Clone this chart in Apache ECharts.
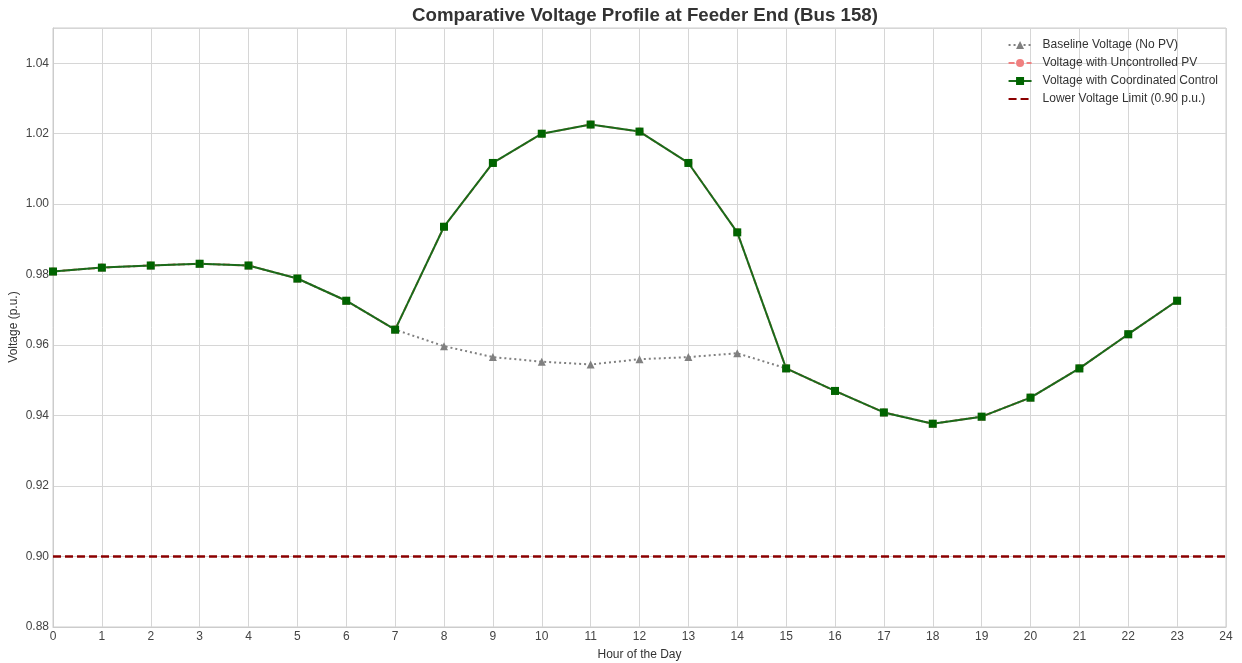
<!DOCTYPE html>
<html>
<head>
<meta charset="utf-8">
<script src="https://cdn.jsdelivr.net/npm/echarts@6/dist/echarts.min.js"></script>
<style>
  html, body { margin: 0; padding: 0; background: #fff; }
  #chart { width: 1242px; height: 663px; }
</style>
</head>
<body>
<div id="chart"></div>
<script>
// hours of the day
var hours = [0, 1, 2, 3, 4, 5, 6, 7, 8, 9, 10, 11, 12, 13, 14, 15, 16, 17, 18, 19, 20, 21, 22, 23];

// voltage at bus 158, p.u.
var baseline = [0.9809, 0.9820, 0.9826, 0.9831, 0.9826, 0.9789, 0.9726, 0.9644,
                0.9597, 0.9566, 0.9553, 0.9545, 0.9560, 0.9566, 0.9577, 0.9534,
                0.9470, 0.9409, 0.9377, 0.9397, 0.9451, 0.9534, 0.9631, 0.9726];
var uncontrolled = [0.9809, 0.9820, 0.9826, 0.9831, 0.9826, 0.9789, 0.9726, 0.9644,
                    0.9936, 1.0117, 1.0200, 1.0226, 1.0206, 1.0117, 0.9920, 0.9534,
                    0.9470, 0.9409, 0.9377, 0.9397, 0.9451, 0.9534, 0.9631, 0.9726];
var coordinated = [0.9809, 0.9820, 0.9826, 0.9831, 0.9826, 0.9789, 0.9726, 0.9644,
                   0.9936, 1.0117, 1.0200, 1.0226, 1.0206, 1.0117, 0.9920, 0.9534,
                   0.9470, 0.9409, 0.9377, 0.9397, 0.9451, 0.9534, 0.9631, 0.9726];
var lowerLimit = 0.90;
var limitX = [0, 24];

function pairs(xs, ys) {
  return xs.map(function (x, i) { return [x, ys[i]]; });
}

var chart = echarts.init(document.getElementById('chart'));

var option = {
  animation: false,
  textStyle: { fontFamily: 'Liberation Sans, Arial, sans-serif' },
  title: {
    text: 'Comparative Voltage Profile at Feeder End (Bus 158)',
    left: 640,
    textAlign: 'center',
    top: 1,
    textStyle: { fontSize: 18.7, fontWeight: 'bold', color: '#333' }
  },
  legend: {
    top: 34,
    right: 19,
    orient: 'vertical',
    itemGap: 6,
    itemWidth: 23,
    itemHeight: 10,
    textStyle: { fontSize: 12, color: '#333', padding: [0, 0, 0, 6] },
    data: [
      'Baseline Voltage (No PV)',
      'Voltage with Uncontrolled PV',
      'Voltage with Coordinated Control',
      { name: 'Lower Voltage Limit (0.90 p.u.)', itemStyle: { opacity: 0 } }
    ]
  },
  grid: { left: 53, right: 16, top: 28, bottom: 36, containLabel: false, outerBoundsMode: 'none' },
  xAxis: {
    type: 'value',
    min: 0,
    max: 24,
    interval: 1,
    name: 'Hour of the Day',
    nameLocation: 'middle',
    nameGap: 22,
    nameTextStyle: { fontSize: 12, color: '#333' },
    axisLine: { show: true, lineStyle: { color: '#ccc' } },
    axisTick: { show: false },
    axisLabel: { color: '#444', fontSize: 12, margin: 4 },
    splitLine: { show: true, lineStyle: { color: '#d6d6d6' } }
  },
  yAxis: {
    type: 'value',
    min: 0.88,
    max: 1.05,
    interval: 0.02,
    axisLine: { show: true, lineStyle: { color: '#ccc' } },
    axisTick: { show: false },
    axisLabel: {
      color: '#444',
      fontSize: 12,
      margin: 4,
      showMaxLabel: false,
      formatter: function (v) { return v.toFixed(2); }
    },
    splitLine: { show: true, lineStyle: { color: '#d6d6d6' } }
  },
  graphic: [
    {
      // plot frame
      type: 'rect',
      shape: { x: 53, y: 28, width: 1173, height: 599 },
      style: { fill: 'none', stroke: '#ccc', lineWidth: 1 },
      silent: true
    },
    {
      // y axis title
      type: 'text',
      x: 14,
      y: 327,
      rotation: Math.PI / 2,
      style: {
        text: 'Voltage (p.u.)',
        fill: '#333',
        fontSize: 12,
        fontFamily: 'Liberation Sans, Arial, sans-serif',
        align: 'center',
        verticalAlign: 'middle'
      },
      silent: true
    }
  ],
  series: [
    {
      name: 'Baseline Voltage (No PV)',
      type: 'line',
      data: pairs(hours, baseline),
      symbol: 'triangle',
      symbolSize: 8,
      itemStyle: { color: '#808080' },
      lineStyle: { color: '#808080', width: 2, type: [2, 3] }
    },
    {
      name: 'Voltage with Uncontrolled PV',
      type: 'line',
      data: pairs(hours, uncontrolled),
      symbol: 'circle',
      symbolSize: 8,
      itemStyle: { color: '#f08080' },
      lineStyle: { color: '#f08080', width: 2, type: [6, 3] }
    },
    {
      name: 'Voltage with Coordinated Control',
      type: 'line',
      data: pairs(hours, coordinated),
      symbol: 'rect',
      symbolSize: 8,
      itemStyle: { color: '#006400' },
      lineStyle: { color: '#1a6b1a', width: 2 }
    },
    {
      name: 'Lower Voltage Limit (0.90 p.u.)',
      type: 'line',
      data: limitX.map(function (x) { return [x, lowerLimit]; }),
      symbol: 'none',
      itemStyle: { color: '#8b0000' },
      lineStyle: { color: '#8b0000', width: 2.5, type: [8, 4] }
    }
  ]
};

chart.setOption(option);
</script>
</body>
</html>
